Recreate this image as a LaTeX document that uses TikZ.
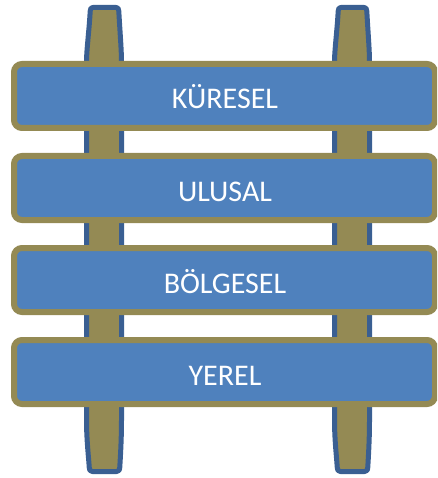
\documentclass[tikz,border=0pt]{standalone}
\usepackage{fontspec}
\setmainfont{Carlito}
\definecolor{woodolive}{HTML}{948A54}
\definecolor{postline}{HTML}{3A5F92}
\definecolor{boardblue}{HTML}{4F81BD}
\begin{document}
\begin{tikzpicture}[x=1pt,y=-1pt,
  post/.style={draw=postline, fill=woodolive, line width=5pt, line join=round},
  board/.style={rectangle, draw=woodolive, fill=boardblue, line width=6pt,
    rounded corners=8pt, minimum width=421pt, minimum height=64pt, inner sep=0pt},
  boardtext/.style={text=white, font=\fontsize{30}{34}\selectfont, anchor=base, inner sep=0pt}]
\useasboundingbox (0,0) rectangle (437,478);
\clip (0,0) rectangle (437,478);

% the two upright posts
\foreach \dx in {0,248}{
  \begin{scope}[xshift=\dx]
    \draw[post] (93,7.5) -- (116,7.5)
      .. controls (118,7.5) and (118.6,8.5) .. (118.8,11)
      .. controls (119.8,30) and (121.5,50) .. (121.5,62) -- (121.5,420)
      .. controls (121.5,440) and (120.3,458) .. (119.8,467)
      .. controls (119.6,470.5) and (118.5,471.5) .. (116.5,471.5) -- (92.5,471.5)
      .. controls (90.5,471.5) and (89.4,470.5) .. (89.2,467)
      .. controls (88.7,458) and (86.5,440) .. (86.5,420) -- (86.5,62)
      .. controls (86.5,50) and (89.2,30) .. (90.2,11)
      .. controls (90.4,8.5) and (91,7.5) .. (93,7.5) -- cycle;
  \end{scope}
}

% the four rungs
\node[board] (kuresel)   at (224.5,96)  {};
\node[board] (ulusal)    at (224.5,188) {};
\node[board] (bolgesel)  at (224.5,280) {};
\node[board] (yerel)     at (224.5,372) {};

\node[boardtext] (tk) at (225,109) {KÜRESEL};
\node[boardtext] (tu) at (225,201) {ULUSAL};
\node[boardtext] (tb) at (225,293) {BÖLGESEL};
\node[boardtext] (ty) at (225,385) {YEREL};
\end{tikzpicture}
\end{document}
